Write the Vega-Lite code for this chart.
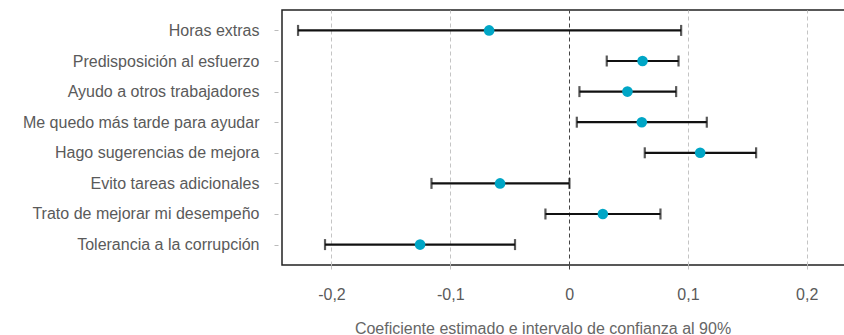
{
  "$schema": "https://vega.github.io/schema/vega-lite/v6.json",
  "autosize": "none",
  "padding": {"left": 282, "top": 10, "right": 0, "bottom": 70},
  "width": 563,
  "height": 255,
  "background": "white",
  "config": {
    "view": {"stroke": "#222", "strokeWidth": 1.5},
    "font": "Liberation Sans"
  },
  "data": {
    "values": [
      {"var": "Horas extras", "est": -0.0673, "lo": -0.2281, "hi": 0.0943},
      {"var": "Predisposición al esfuerzo", "est": 0.0618, "lo": 0.0317, "hi": 0.0921},
      {"var": "Ayudo a otros trabajadores", "est": 0.0491, "lo": 0.0087, "hi": 0.0901},
      {"var": "Me quedo más tarde para ayudar", "est": 0.0612, "lo": 0.0065, "hi": 0.1159},
      {"var": "Hago sugerencias de mejora", "est": 0.1103, "lo": 0.0637, "hi": 0.1574},
      {"var": "Evito tareas adicionales", "est": -0.0581, "lo": -0.1158, "hi": 0.0003},
      {"var": "Trato de mejorar mi desempeño", "est": 0.0284, "lo": -0.0199, "hi": 0.0769},
      {"var": "Tolerancia a la corrupción", "est": -0.1254, "lo": -0.2054, "hi": -0.0455}
    ]
  },
  "encoding": {
    "y": {
      "field": "var", "type": "nominal", "sort": null,
      "scale": {"type": "point", "padding": 0.667},
      "axis": {
        "title": null, "domain": false, "grid": false,
        "offset": 4, "tickSize": 4, "tickColor": "#bbb", "tickWidth": 1,
        "labelPadding": 15, "labelFontSize": 16, "labelColor": "#5a5a5a",
        "labelLimit": 0,
        "labelFont": "Liberation Sans"
      }
    }
  },
  "layer": [
    {
      "mark": {"type": "rule", "color": "#111", "strokeWidth": 2.2},
      "encoding": {
        "x": {
          "field": "lo", "type": "quantitative",
          "scale": {"domain": [-0.2416, 0.2322], "nice": false, "zero": false},
          "axis": {
            "values": [-0.2, -0.1, 0, 0.1, 0.2],
            "labelExpr": "replace(toString(round(datum.value*10)/10), '.', ',')",
            "domain": false,
            "grid": true,
            "gridColor": {"condition": {"test": "datum.value === 0", "value": "#444"}, "value": "#c4c4c4"},
            "gridDash": [4, 3],
            "gridWidth": 1,
            "tickColor": {"condition": {"test": "datum.value === 0", "value": "#444"}, "value": "#c4c4c4"},
            "tickDash": [4, 3],
            "tickSize": 7,
            "labelPadding": 14,
            "labelFontSize": 16,
            "labelColor": "#5a5a5a",
            "title": "Coeficiente estimado e intervalo de confianza al 90%",
            "titleFontSize": 16,
            "titleFontWeight": "normal",
            "titleColor": "#666",
            "titleX": 260.5,
            "titleY": 63,
            "titleAlign": "center",
            "titleBaseline": "middle",
            "labelFont": "Liberation Sans",
            "titleFont": "Liberation Sans"
          }
        },
        "x2": {"field": "hi"}
      }
    },
    {
      "mark": {"type": "tick", "color": "#111", "thickness": 2.2, "size": 11, "orient": "vertical"},
      "encoding": {"x": {"field": "lo", "type": "quantitative"}}
    },
    {
      "mark": {"type": "tick", "color": "#111", "thickness": 2.2, "size": 11, "orient": "vertical"},
      "encoding": {"x": {"field": "hi", "type": "quantitative"}}
    },
    {
      "mark": {"type": "circle", "color": "#00a6c6", "opacity": 1, "size": 112},
      "encoding": {"x": {"field": "est", "type": "quantitative"}}
    }
  ]
}
